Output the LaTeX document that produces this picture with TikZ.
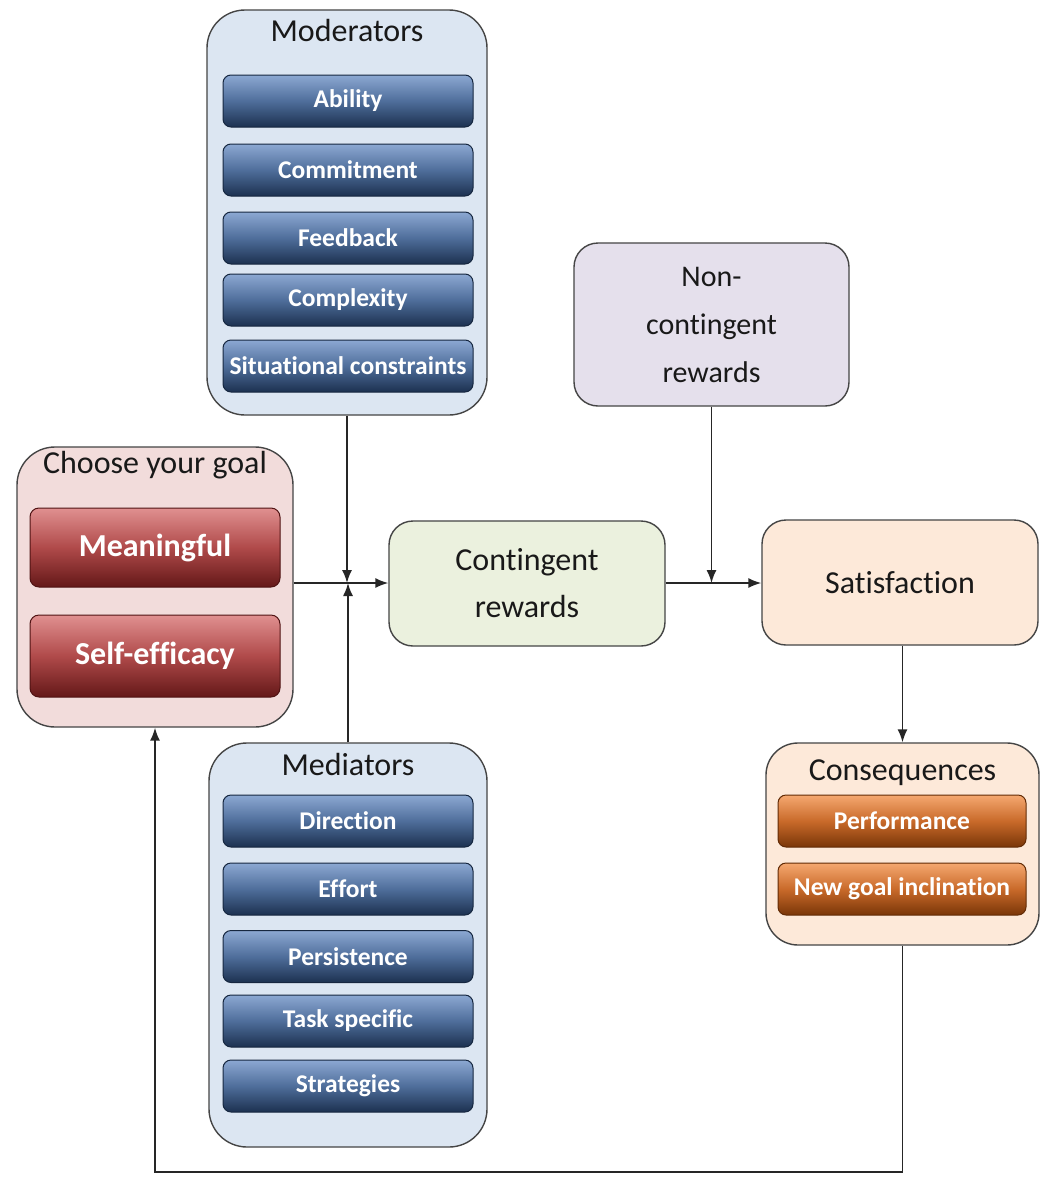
\documentclass[tikz,border=0pt]{standalone}
\usepackage{fontspec}
\setmainfont{Carlito}[Ligatures=NoCommon]
\usetikzlibrary{arrows.meta}
\definecolor{bluebg}{HTML}{DCE6F2}
\definecolor{pinkbg}{HTML}{F2DCDB}
\definecolor{greenbg}{HTML}{EBF1DE}
\definecolor{lavbg}{HTML}{E5E0EC}
\definecolor{peachbg}{HTML}{FDE9D9}
\definecolor{edge}{HTML}{454545}
\definecolor{bltop}{HTML}{8CA8D2}
\definecolor{blmid}{HTML}{4F6E9B}
\definecolor{blbot}{HTML}{1C3150}
\definecolor{rdtop}{HTML}{E09090}
\definecolor{rdmid}{HTML}{B04A4A}
\definecolor{rdbot}{HTML}{641818}
\definecolor{ortop}{HTML}{F5A870}
\definecolor{ormid}{HTML}{C96A2A}
\definecolor{orbot}{HTML}{7A3608}
\tikzset{
  outerbox/.style={draw=edge, line width=1.4pt, rounded corners=38pt},
  plainbox/.style={draw=edge, line width=1.4pt, rounded corners=24pt, align=center,
    text=black!90, font=\fontsize{32}{47}\selectfont},
  titletext/.style={text=black!90, font=\fontsize{32}{38}\selectfont, inner sep=0pt},
  bluebar/.style={draw=blbot!80!black, line width=1pt, rounded corners=8pt,
    top color=bltop, bottom color=blbot, middle color=blmid,
    minimum width=250pt, minimum height=52pt, text=white,
    font=\bfseries\fontsize{25.5}{30}\selectfont, inner sep=0pt},
  redbar/.style={draw=rdbot!80!black, line width=1pt, rounded corners=9pt,
    top color=rdtop, bottom color=rdbot, middle color=rdmid,
    minimum width=250pt, text=white,
    font=\bfseries\fontsize{32}{38}\selectfont, inner sep=0pt},
  orbar/.style={draw=orbot!80!black, line width=1pt, rounded corners=8pt,
    top color=ortop, bottom color=orbot, middle color=ormid,
    minimum width=248pt, minimum height=52pt, text=white,
    font=\bfseries\fontsize{25.5}{30}\selectfont, inner sep=0pt},
  arr/.style={draw=black!85, line width=1.6pt, -{Latex[length=13pt,width=10pt]}}
}
\begin{document}
\begin{tikzpicture}[x=1pt,y=-1pt]
\useasboundingbox[fill=white] (0,0) rectangle (1042,1178);

% Moderators
\node[outerbox, fill=bluebg, minimum width=280pt, minimum height=405pt] (mod) at (347,212.5) {};
\node[titletext] (modt) at (347,31) {Moderators};
\node[bluebar] (ab) at (348,101) {Ability};
\node[bluebar] (cm) at (348,170) {Commitment};
\node[bluebar] (fb) at (348,238) {Feedback};
\node[bluebar] (cx) at (348,300) {Complexity};
\node[bluebar] (sc) at (348,366) {Situational constraints};

% Choose your goal
\node[outerbox, fill=pinkbg, minimum width=276pt, minimum height=280pt] (goal) at (155,587) {};
\node[titletext] (goalt) at (155,465) {Choose your goal};
\node[redbar, minimum height=79pt] (mf) at (155,547.5) {Meaningful};
\node[redbar, minimum height=82pt] (se) at (155,656) {Self-efficacy};

% Contingent rewards
\node[plainbox, fill=greenbg, minimum width=276pt, minimum height=125pt] (cont) at (527,583.5) {Contingent\\rewards};

% Non-contingent rewards
\node[plainbox, fill=lavbg, minimum width=275pt, minimum height=163pt,
  font=\fontsize{30}{48}\selectfont] (ncont) at (711.5,324.5) {Non-\\contingent\\rewards};

% Satisfaction
\node[plainbox, fill=peachbg, minimum width=276pt, minimum height=125pt] (sat) at (900,582.5) {Satisfaction};

% Consequences
\node[outerbox, rounded corners=32pt, fill=peachbg, minimum width=273pt, minimum height=202pt] (cons) at (902.5,844) {};
\node[titletext] (const) at (902.5,773) {Consequences};
\node[orbar] (pf) at (902,821) {Performance};
\node[orbar] (ng) at (902,889) {New goal inclination};

% Mediators
\node[outerbox, fill=bluebg, minimum width=278pt, minimum height=404pt] (med) at (348,945) {};
\node[titletext] (medt) at (348,764) {Mediators};
\node[bluebar] (dr) at (348,821) {Direction};
\node[bluebar] (ef) at (348,889) {Effort};
\node[bluebar] (ps) at (348,956.5) {Persistence};
\node[bluebar] (ts) at (348,1021) {Task specific};
\node[bluebar] (st) at (348,1086) {Strategies};

% Connectors
\coordinate (J) at (348,583);
\coordinate (fbl) at (0,1172);
\draw[arr] (goal.east |- J) -- (cont.west |- J);
\draw[arr] (mod.south) -- (mod.south |- J);
\draw[arr] (med.north) -- (med.north |- J);
\draw[arr] (cont.east |- J) -- (sat.west |- J);
\draw[arr] (ncont.south) -- (ncont.south |- J);
\draw[arr] (sat.south -| cons.north) -- (cons.north);
\draw[arr] (cons.south) -- (cons.south |- fbl) -| (goal.south);
\end{tikzpicture}
\end{document}
